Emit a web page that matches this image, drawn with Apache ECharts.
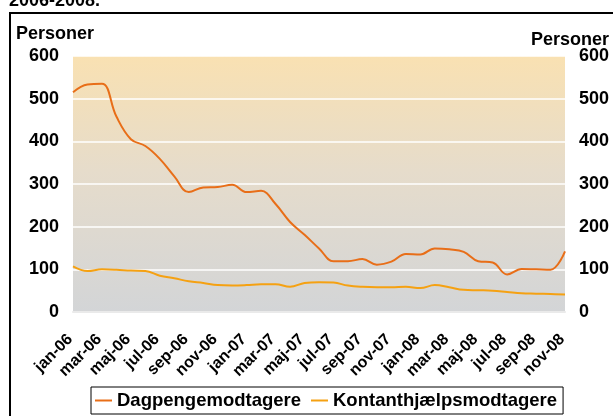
<!DOCTYPE html>
<html>
<head>
<meta charset="utf-8">
<script src="https://cdn.jsdelivr.net/npm/echarts@6/dist/echarts.min.js"></script>
<style>
html,body{margin:0;padding:0;background:#fff;}
#c{width:613px;height:416px;}
</style>
</head>
<body>
<div id="c"></div>
<script>
const categories = [
  'jan-06','feb-06','mar-06','apr-06','maj-06','jun-06','jul-06','aug-06','sep-06','okt-06','nov-06','dec-06',
  'jan-07','feb-07','mar-07','apr-07','maj-07','jun-07','jul-07','aug-07','sep-07','okt-07','nov-07','dec-07',
  'jan-08','feb-08','mar-08','apr-08','maj-08','jun-08','jul-08','aug-08','sep-08','okt-08','nov-08'
];
const dagpenge = [
  515, 533, 535, 458, 405, 389, 359, 318, 281, 292, 293, 298,
  281, 284, 253, 211, 181, 149, 119, 119, 124, 111, 118, 136,
  135, 149, 147, 141, 119, 116, 88, 101, 100, 99, 142
];
const kontant = [
  107, 96, 100, 99, 97, 96, 85, 79, 72, 68, 63, 62,
  63, 65, 65, 59, 68, 70, 69, 62, 59, 58, 58, 59,
  56, 63, 58, 52, 51, 50, 47, 44, 43, 42, 41
];
const seriesNames = ['Dagpengemodtagere', 'Kontanthjælpsmodtagere'];
const yTicks = {min: 0, max: 600, interval: 100};
const titleText = '2006-2008.';
const axisTitle = 'Personer';

const FONT = '"Liberation Sans", Arial, sans-serif';
const chart = echarts.init(document.getElementById('c'), null, {renderer: 'canvas'});
const yAxisCommon = {
  type: 'value', min: yTicks.min, max: yTicks.max, interval: yTicks.interval,
  axisLine: {show: false}, axisTick: {show: false},
  axisLabel: {color: '#000', fontFamily: FONT, fontWeight: 'bold', fontSize: 18, margin: 14}
};
chart.setOption({
  animation: false,
  backgroundColor: '#fff',
  grid: {
    left: 73, right: 48, top: 56, bottom: 104,
    show: true, borderWidth: 0,
    backgroundColor: new echarts.graphic.LinearGradient(0, 0, 0, 1, [
      {offset: 0, color: '#F9E1B2'},
      {offset: 0.45, color: '#E6DCCB'},
      {offset: 1, color: '#D3D5D7'}
    ])
  },
  xAxis: {
    type: 'category', data: categories, boundaryGap: false,
    axisLine: {show: true, lineStyle: {color: '#EAEAEA', width: 2}},
    axisTick: {show: false},
    axisLabel: {
      interval: 1, rotate: 45, margin: 22, padding: [0, 4, 0, 0],
      color: '#000', fontFamily: FONT, fontWeight: 'bold', fontSize: 16
    },
    splitLine: {show: false}
  },
  yAxis: [
    Object.assign({}, yAxisCommon, {position: 'left',
      splitLine: {show: true, lineStyle: {color: '#FFFFFF', width: 1.5}}}),
    Object.assign({}, yAxisCommon, {position: 'right', splitLine: {show: false}})
  ],
  legend: {
    left: 91, top: 387, orient: 'horizontal',
    padding: [4, 6, 4, 4], itemGap: 10,
    borderColor: '#000', borderWidth: 1, backgroundColor: '#fff',
    icon: 'rect', itemWidth: 17, itemHeight: 2,
    textStyle: {color: '#000', fontFamily: FONT, fontWeight: 'bold', fontSize: 18.5},
    data: seriesNames
  },
  series: [
    {name: seriesNames[0], type: 'line', data: dagpenge, smooth: 0.4, showSymbol: false,
      lineStyle: {color: '#E86E18', width: 2}, itemStyle: {color: '#E86E18'}, z: 3},
    {name: seriesNames[1], type: 'line', data: kontant, smooth: 0.4, showSymbol: false,
      lineStyle: {color: '#F5A112', width: 2}, itemStyle: {color: '#F5A112'}, z: 2}
  ],
  graphic: [
    {type: 'rect', silent: true, z: 0, shape: {x: 10, y: 13, width: 800, height: 600},
      style: {fill: 'transparent', stroke: '#000', lineWidth: 2}},
    {type: 'text', x: 9, y: -8, silent: true,
      style: {text: titleText, font: 'bold 18px ' + FONT, fill: '#000', verticalAlign: 'top'}},
    {type: 'text', x: 16, y: 25, silent: true,
      style: {text: axisTitle, font: 'bold 18px ' + FONT, fill: '#000', verticalAlign: 'top'}},
    {type: 'text', x: 609, y: 31, silent: true,
      style: {text: axisTitle, font: 'bold 18px ' + FONT, fill: '#000', align: 'right', verticalAlign: 'top'}}
  ]
});
</script>
</body>
</html>
